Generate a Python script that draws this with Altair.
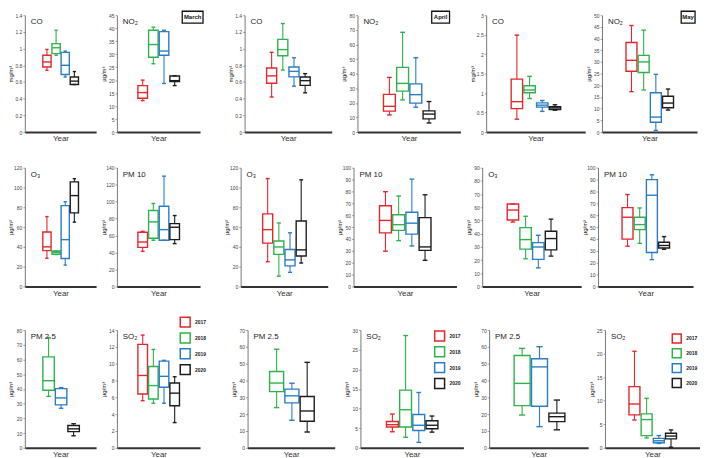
import altair as alt
import pandas as pd

YEARS = ["2017", "2018", "2019", "2020"]
COLORS = ["#e5262d", "#2db34a", "#2a7cc6", "#1c1c1c"]

# per year: [min, q1, median, q3, max]; None = no data
MARCH_CO = [[0.74, 0.78, 0.84, 0.92, 0.99], [0.92, 0.94, 1.01, 1.06, 1.22],
            [0.66, 0.69, 0.80, 0.955, 0.97], [0.57, 0.57, 0.61, 0.66, 0.725]]
MARCH_NO2 = [[12.1, 13.0, 15.2, 17.9, 20.0], [26.3, 28.8, 33.7, 39.2, 40.4],
             [18.7, 29.6, 31.2, 38.7, 39.2], [17.9, 19.4, 19.8, 21.6, 21.7]]
APRIL_CO = [[0.42, 0.584, 0.673, 0.767, 0.955], [0.743, 0.914, 0.988, 1.11, 1.30],
            [0.55, 0.661, 0.727, 0.78, 0.89], [0.47, 0.559, 0.616, 0.66, 0.70]]
APRIL_NO2 = [[11.7, 14.3, 17.6, 25.8, 37.4], [22.0, 28.0, 33.3, 44.3, 68.3],
             [17.0, 19.8, 25.6, 33.0, 50.9], [6.2, 9.0, 12.3, 14.5, 20.9]]
MAY_CO = [[0.33, 0.60, 0.78, 1.36, 2.49], [0.86, 1.01, 1.08, 1.19, 1.43],
          [0.53, 0.64, 0.69, 0.75, 0.81], [0.56, 0.58, 0.62, 0.65, 0.70]]
MAY_NO2 = [[17.3, 26.0, 30.7, 38.3, 45.6], [18.0, 25.5, 30.0, 32.8, 43.6],
           [0.7, 4.2, 6.4, 16.8, 24.7], [9.4, 10.4, 12.4, 15.3, 18.4]]

MARCH_O3 = [[28.5, 36.2, 40.0, 55.0, 70.6], [32.3, 32.5, 34.5, 35.8, 35.8],
            [21.6, 28.2, 47.3, 81.7, 85.6], [65.0, 74.4, 91.8, 105.7, 108.9]]
MARCH_PM10 = [[41.4, 46.1, 52.4, 63.9, 65.0], [54.4, 56.8, 76.1, 89.5, 97.8],
              [54.4, 54.4, 67.0, 94.6, 130.0], [50.5, 55.2, 69.8, 74.1, 83.6]]
APRIL_O3 = [[25.0, 43.8, 57.4, 73.3, 109.0], [10.4, 32.4, 39.9, 46.0, 64.2],
            [14.3, 20.8, 26.9, 37.3, 54.2], [23.7, 30.8, 37.0, 66.2, 107.7]]
APRIL_PM10 = [[29.7, 45.1, 55.6, 68.0, 79.8], [38.6, 47.2, 52.0, 60.4, 76.1],
              [34.1, 44.1, 53.3, 62.5, 90.3], [22.0, 30.4, 33.3, 58.0, 77.2]]
MAY_O3 = [[48.8, 50.4, 57.9, 62.5, 62.5], [21.0, 28.3, 35.5, 44.6, 53.2],
          [14.1, 20.5, 29.9, 33.2, 38.8], [23.0, 27.7, 36.3, 41.8, 51.0]]
MAY_PM10 = [[33.9, 39.9, 58.3, 66.4, 77.4], [36.3, 47.9, 52.1, 58.3, 66.1],
            [22.6, 28.6, 76.8, 89.9, 94.0], [31.3, 32.4, 34.5, 37.2, 42.0]]

MARCH_PM25 = [None, [34.9, 39.1, 45.6, 61.8, 74.9],
              [26.9, 29.2, 33.9, 40.2, 40.9], [8.2, 11.0, 12.9, 15.2, 16.4]]
MARCH_SO2 = [[5.6, 6.4, 8.6, 12.3, 13.4], [5.3, 5.8, 7.4, 9.66, 11.7],
             [5.3, 7.2, 8.5, 10.3, 10.4], [3.0, 5.0, 6.5, 7.7, 8.45]]
APRIL_PM25 = [None, [23.9, 33.4, 38.5, 45.4, 58.6],
              [16.4, 26.7, 30.9, 34.9, 38.4], [9.4, 15.8, 21.9, 30.5, 50.8]]
APRIL_SO2 = [[4.1, 5.3, 5.9, 6.7, 8.6], [2.7, 5.3, 9.7, 14.7, 28.6],
             [1.4, 4.4, 5.75, 8.5, 14.1], [4.0, 4.85, 5.75, 6.9, 8.1]]
MAY_PM25 = [None, [19.5, 25.1, 38.3, 54.9, 59.1],
            [12.6, 24.7, 48.1, 52.9, 60.1], [10.7, 15.6, 18.5, 20.6, 28.4]]
MAY_SO2 = [[5.9, 7.0, 9.3, 13.0, 20.5], [2.1, 2.6, 6.0, 7.2, 10.5],
           [0.93, 1.07, 1.5, 2.0, 2.6], [0.14, 1.9, 2.5, 3.1, 3.8]]

FONT = "Liberation Sans"
MG = "mg/m\u00b3"
UG = "\u00b5g/m\u00b3"


def panel(data, label, unit, ymax, step, width, height, legend=None, month=None):
    rows = []
    for yr, st in zip(YEARS, data):
        if st is None:
            continue
        rows.append(dict(year=yr, mn=st[0], q1=st[1], med=st[2], q3=st[3], mx=st[4]))
    df = pd.DataFrame(rows)
    df["slot"] = list(range(len(df)))
    if len(df) == 4:
        dom, half = [-2.42, 5.38], 0.45
    else:
        dom, half = [-1.9, 3.8], 0.46
    cap = 0.18
    base = alt.Chart(df).transform_calculate(
        xlo=f"datum.slot - {half}", xhi=f"datum.slot + {half}",
        clo=f"datum.slot - {cap}", chi=f"datum.slot + {cap}")
    xs = alt.Scale(domain=dom, nice=False, zero=False)
    xax = alt.Axis(title="Year", labels=False, ticks=False, grid=False)
    ticks = []
    v = 0.0
    while v <= ymax + 1e-9:
        ticks.append(round(v, 4))
        v += step
    ys = alt.Scale(domain=[0, ymax], nice=False, zero=True)
    yax = alt.Axis(title=unit, values=ticks, format=".2~f", grid=False)
    if legend is None:
        stroke = alt.Stroke("year:N", scale=alt.Scale(domain=YEARS, range=COLORS), legend=None)
    else:
        stroke = alt.Stroke("year:N", scale=alt.Scale(domain=YEARS, range=COLORS),
                            legend=alt.Legend(orient="none", legendX=legend[0], legendY=legend[1],
                                              title=None, symbolType="square", symbolSize=legend[3],
                                              symbolStrokeWidth=1.5, symbolFillColor="white",
                                              labelFontSize=5, labelFontWeight="bold",
                                              labelFont=FONT, labelColor="#222",
                                              rowPadding=legend[2], labelOffset=4))
    whisk = base.mark_rule(strokeWidth=1.1).encode(
        x=alt.X("slot:Q", scale=xs, axis=xax), y=alt.Y("mn:Q", scale=ys, axis=yax),
        y2="mx:Q", stroke=stroke)
    box = base.mark_rect(fill="white", strokeWidth=1.4).encode(
        x=alt.X("xlo:Q", scale=xs, axis=xax), x2="xhi:Q",
        y=alt.Y("q1:Q", scale=ys, axis=yax), y2="q3:Q", stroke=stroke)
    med = base.mark_rule(strokeWidth=1.4).encode(
        x=alt.X("xlo:Q", scale=xs, axis=xax), x2="xhi:Q",
        y=alt.Y("med:Q", scale=ys, axis=yax), stroke=stroke)
    cmin = base.mark_rule(strokeWidth=1.4).encode(
        x=alt.X("clo:Q", scale=xs, axis=xax), x2="chi:Q",
        y=alt.Y("mn:Q", scale=ys, axis=yax), stroke=stroke)
    cmax = base.mark_rule(strokeWidth=1.4).encode(
        x=alt.X("clo:Q", scale=xs, axis=xax), x2="chi:Q",
        y=alt.Y("mx:Q", scale=ys, axis=yax), stroke=stroke)
    title = alt.Chart(alt.Data(values=[{"t": label}])).mark_text(
        align="left", baseline="middle", fontSize=8, font=FONT, color="#222").encode(
        x=alt.value(6), y=alt.value(7), text="t:N")
    layers = [whisk, box, med, cmin, cmax, title]
    if month is not None:
        mtext, x0, x1 = month
        mrect = alt.Chart(alt.Data(values=[{"t": mtext}])).mark_rect(
            fill="white", stroke="#111", strokeWidth=1.3).encode(
            x=alt.value(x0), x2=alt.value(x1), y=alt.value(-4), y2=alt.value(8))
        mlab = alt.Chart(alt.Data(values=[{"t": mtext}])).mark_text(
            align="center", baseline="middle", fontSize=6, fontWeight="bold",
            font=FONT, color="#111").encode(
            x=alt.value((x0 + x1) / 2), y=alt.value(2), text="t:N")
        layers += [mrect, mlab]
    return alt.layer(*layers).properties(width=width, height=height)


def hc(a, b, s):
    return alt.hconcat(a, b, spacing=s).resolve_scale(
        stroke="independent").resolve_legend(stroke="independent")


def vc(a, b, s):
    return alt.vconcat(a, b, spacing=s).resolve_scale(
        stroke="independent").resolve_legend(stroke="independent")


W = [72, 84, 88, 104, 100, 96]
H = [118, 120, 119]


def row(panels):
    p1, p2, p3, p4, p5, p6 = panels
    return hc(hc(p1, p2, 4), hc(p3, hc(p4, hc(p5, p6, 0), 9), 9), 24)


row1 = row([
    panel(MARCH_CO, "CO", MG, 1.4, 0.2, W[0], H[0]),
    panel(MARCH_NO2, "NO\u2082", UG, 45, 5, W[1], H[0], month=("March", 66, 87)),
    panel(APRIL_CO, "CO", MG, 1.4, 0.2, W[2], H[0]),
    panel(APRIL_NO2, "NO\u2082", UG, 80, 10, W[3], H[0], month=("April", 75, 93)),
    panel(MAY_CO, "CO", MG, 3, 0.5, W[4], H[0]),
    panel(MAY_NO2, "NO\u2082", UG, 50, 5, W[5], H[0], month=("May", 80, 94)),
])
row2 = row([
    panel(MARCH_O3, "O\u2083", UG, 120, 20, W[0], H[1]),
    panel(MARCH_PM10, "PM 10", UG, 140, 20, W[1], H[1]),
    panel(APRIL_O3, "O\u2083", UG, 120, 20, W[2], H[1]),
    panel(APRIL_PM10, "PM 10", UG, 100, 10, W[3], H[1]),
    panel(MAY_O3, "O\u2083", UG, 90, 10, W[4], H[1]),
    panel(MAY_PM10, "PM 10", UG, 100, 10, W[5], H[1]),
])
row3 = row([
    panel(MARCH_PM25, "PM 2.5", UG, 80, 10, W[0], H[2]),
    panel(MARCH_SO2, "SO\u2082", UG, 14, 2, W[1], H[2], legend=(63, -14, 0, 100)),
    panel(APRIL_PM25, "PM 2.5", UG, 70, 10, W[2], H[2]),
    panel(APRIL_SO2, "SO\u2082", UG, 30, 5, W[3], H[2], legend=(74, 0, 0, 100)),
    panel(MAY_PM25, "PM 2.5", UG, 70, 10, W[4], H[2]),
    panel(MAY_SO2, "SO\u2082", UG, 25, 5, W[5], H[2], legend=(67, 3, 0, 81)),
])

chart = vc(row1, vc(row2, row3, 19), 23).properties(padding=0).configure_view(
    stroke=None).configure_axisY(
    labelFontSize=5, labelFont=FONT, labelColor="#444", labelPadding=1,
    tickSize=2, tickColor="#666", tickWidth=0.6,
    domainColor="#555", domainWidth=0.8,
    titleFontSize=6, titleFont=FONT, titleColor="#222", titleFontWeight="normal",
    titlePadding=1, minExtent=10, maxExtent=10).configure_axisX(
    domainColor="#333", domainWidth=2,
    titleFontSize=8, titleFont=FONT, titleColor="#333", titleFontWeight="normal",
    titlePadding=3)

chart.save("out.html", embed_options={"renderer": "svg", "actions": False})
